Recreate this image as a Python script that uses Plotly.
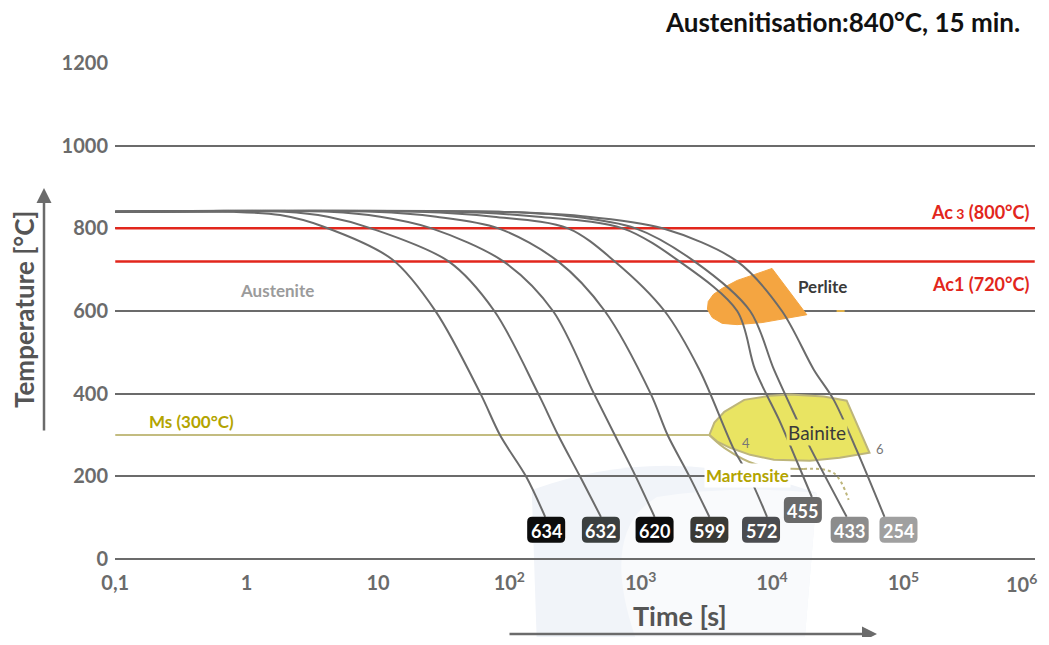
import numpy as np
import plotly.graph_objects as go

# ---------------- data (time in s, temperature in °C) ----------------
curve_labels = ["634", "632", "620", "599", "572", "455", "433", "254"]
label_colors = ["#0c0c0c", "#3b3f3f", "#0c0c0c", "#3a3a35", "#4b4c50", "#6a6a6a", "#8c8c8c", "#a0a0a0"]
label_xshift = [1, 0, 0, 0, -6, -9, 3, 14]

c634_t = [0.1, 0.8, 1.8, 3.77, 12.8, 27.5, 60.3, 85.5, 134.5, 187.5]
c634_T = [840, 840, 832, 805, 725, 599, 400, 298, 199, 102]
c632_t = [0.1, 1.94, 4.15, 8.85, 34.5, 76.9, 166, 235, 345, 498]
c632_T = [840, 840, 828, 800, 720, 600, 400, 300, 200, 102]
c620_t = [0.1, 4.26, 10.4, 25.6, 90.1, 215, 441, 635, 916, 1276]
c620_T = [840, 840, 828, 800, 720, 600, 400, 300, 200, 102]
c599_t = [0.1, 9.3, 27.8, 82.6, 235, 533, 1191, 1603, 2350, 3334]
c599_T = [840, 840, 828, 800, 720, 600, 400, 300, 200, 102]
c572_t = [0.1, 20.5, 75.7, 280, 635, 1520, 2800, 5150, 6700, 9160]
c572_T = [840, 840, 828, 800, 720, 600, 458, 264, 200, 102]
c455_t = [0.1, 37.7, 166, 731, 1972, 5430, 7430, 11300, 13680, 20100]
c455_T = [840, 840, 828, 800, 720, 600, 458, 337, 276, 150]
c433_t = [0.1, 82.6, 275, 916, 2565, 6810, 10350, 15460, 19050, 37000]
c433_T = [840, 840, 830, 800, 720, 600, 458, 337, 276, 102]
c254_t = [0.1, 82.6, 348, 1468, 5430, 11900, 20800, 29500, 44000, 71800]
c254_T = [840, 840, 830, 800, 720, 600, 458, 385, 264, 102]

curves_t = [c634_t, c632_t, c620_t, c599_t, c572_t, c455_t, c433_t, c254_t]
curves_T = [c634_T, c632_T, c620_T, c599_T, c572_T, c455_T, c433_T, c254_T]

perlite_t = [18400, 13000, 8400, 5430, 4180, 3510, 3221, 3270, 3570, 4180, 5430, 7310, 10000, 18400]
perlite_T = [591, 582, 572, 567, 570, 584, 604, 623, 640, 655, 674, 688, 703, 591]

bainite_t = [3334, 3640, 4330, 6140, 9660, 13680, 24800, 37000, 55200,
             32700, 19400, 10350, 6810, 4810, 3830, 3334]
bainite_T = [300, 330, 356, 385, 395, 398, 393, 383, 257,
             245, 238, 240, 252, 269, 284, 300]

mart_t = [3334, 4330, 7700, 17470]
mart_T = [300, 269, 228, 218]
mart_dot_t = [17470, 29500, 38300]
mart_dot_T = [218, 208, 143]

ms_t = [0.1, 3334]
ms_T = [300, 300]

perlite_dash_t = [31000, 35700]
perlite_dash_T = [600, 600]

ac3 = 800
ac1 = 720
y_ticks = [0, 200, 400, 600, 800, 1000, 1200]
x_tickvals = [0.1, 1, 10, 100, 1e3, 1e4, 1e5]
x_ticktext = ["0,1", "1", "10", "10<sup>2</sup>", "10<sup>3</sup>", "10<sup>4</sup>", "10<sup>5</sup>"]
x_last_tick = 1e6
x_last_text = "10<sup>6</sup>"

FONT = "Lato"
GRAY = "#6b6b6b"
RED = "#e2261c"
OLIVE = "#b3a400"

fig = go.Figure()

fig.add_trace(go.Scatter(x=perlite_t, y=perlite_T, mode="lines", fill="toself",
                         fillcolor="#f4a541", line=dict(color="#f4a541", width=1),
                         hoverinfo="skip", showlegend=False))
fig.add_trace(go.Scatter(x=perlite_dash_t, y=perlite_dash_T, mode="lines",
                         line=dict(color="#e0b04a", width=2), hoverinfo="skip", showlegend=False))
fig.add_trace(go.Scatter(x=bainite_t, y=bainite_T, mode="lines", fill="toself",
                         fillcolor="#e9e462", line=dict(color="#bdb57a", width=2),
                         hoverinfo="skip", showlegend=False))
fig.add_trace(go.Scatter(x=ms_t, y=ms_T, mode="lines", line=dict(color="#c3bc80", width=2),
                         hoverinfo="skip", showlegend=False))
fig.add_trace(go.Scatter(x=mart_t, y=mart_T, mode="lines",
                         line=dict(color="#bdb57a", width=2, shape="spline"),
                         hoverinfo="skip", showlegend=False))
fig.add_trace(go.Scatter(x=mart_dot_t, y=mart_dot_T, mode="lines",
                         line=dict(color="#bdb57a", width=2, dash="dot", shape="spline"),
                         hoverinfo="skip", showlegend=False))
for v in [ac3, ac1]:
    fig.add_trace(go.Scatter(x=[0.1, 1e6], y=[v, v], mode="lines", line=dict(color=RED, width=2.5),
                             hoverinfo="skip", showlegend=False))

for t, T in zip(curves_t, curves_T):
    fig.add_trace(go.Scatter(x=t, y=T, mode="lines",
                             line=dict(color=GRAY, width=2, shape="spline", smoothing=0.9),
                             hoverinfo="skip", showlegend=False))

shapes = []
annotations = []


def box_path(w, h, r, dx):
    pts = [("M", -w/2 + r, 0), ("L", w/2 - r, 0), ("Q", w/2, 0, w/2, -r), ("L", w/2, -h + r),
           ("Q", w/2, -h, w/2 - r, -h), ("L", -w/2 + r, -h), ("Q", -w/2, -h, -w/2, -h + r),
           ("L", -w/2, -r), ("Q", -w/2, 0, -w/2 + r, 0)]
    s = []
    for p in pts:
        if p[0] == "Q":
            s.append(f"Q {p[1]+dx},{p[2]} {p[3]+dx},{p[4]}")
        else:
            s.append(f"{p[0]} {p[1]+dx},{p[2]}")
    return " ".join(s) + " Z"


for lab, col, xs, t, T in zip(curve_labels, label_colors, label_xshift, curves_t, curves_T):
    shapes.append(dict(type="path", xref="x", yref="y", xsizemode="pixel", ysizemode="pixel",
                       xanchor=t[-1], yanchor=T[-1], path=box_path(38, 26, 5, xs),
                       fillcolor=col, line=dict(width=0), layer="above"))
    annotations.append(dict(x=np.log10(t[-1]), y=T[-1], xref="x", yref="y", text=f"<b>{lab}</b>",
                            showarrow=False, xanchor="center", yanchor="top", xshift=xs, yshift=-1,
                            font=dict(family=FONT, size=18, color="white")))

# faint watermark
shapes.append(dict(type="path", xref="paper", yref="paper", layer="below",
                   path="M 0.459,-0.2 L 0.453,0.139 Q 0.60,0.24 0.763,0.133 L 0.748,-0.2 Z",
                   fillcolor="#f1f4f9", line=dict(width=0)))
shapes.append(dict(type="path", xref="paper", yref="paper", layer="below",
                   path="M 0.574,-0.2 Q 0.52,0.05 0.589,0.125 Q 0.68,0.15 0.763,0.133 L 0.748,-0.2 Z",
                   fillcolor="#f9fafc", line=dict(width=0)))


def txt(x, y, s, color, size, xanchor="center", bg=None, xref="x", weight=True):
    d = dict(x=x, y=y, xref=xref, yref="y", text=(f"<b>{s}</b>" if weight else s), showarrow=False,
             xanchor=xanchor, yanchor="middle", font=dict(family=FONT, size=size, color=color))
    if bg:
        d["bgcolor"] = bg
        d["borderpad"] = 1
    annotations.append(d)


txt(np.log10(1.69), 650, "Austenite", "#9b9b9b", 17)
txt(np.log10(24300), 659, "Perlite", "#3a3a3a", 17)
txt(np.log10(21900), 305, "Bainite", "#3a3a3a", 19, bg="#e9e462", weight=False)
txt(np.log10(6470), 201, "Martensite", OLIVE, 17, bg="white")
txt(np.log10(0.383), 332, "Ms (300°C)", OLIVE, 17)
txt(0.996, 839, "Ac<span style='font-size:14px'> 3</span> (800°C)", RED, 18, xanchor="right", xref="paper")
txt(0.996, 665, "Ac1 (720°C)", RED, 18, xanchor="right", xref="paper")
txt(np.log10(6350), 281, "4", "#777777", 13, weight=False)
txt(np.log10(65800), 267, "6", "#777777", 13, weight=False)

# last x tick label (drawn as annotation so it stays inside the figure)
annotations.append(dict(x=1.0, y=0, xref="paper", yref="paper", text=f"<b>{x_last_text}</b>",
                        showarrow=False, xanchor="right", yanchor="top", xshift=4, yshift=-9,
                        font=dict(family=FONT, size=20, color=GRAY)))

annotations.append(dict(x=(24 - 115) / 920, y=(559 - 310) / 496, xref="paper", yref="paper",
                        xanchor="center", yanchor="middle", text="<b>Temperature [°C]</b>",
                        textangle=-90, showarrow=False, font=dict(family=FONT, size=26, color="#555555")))
annotations.append(dict(x=(680 - 115) / 920, y=(559 - 615) / 496, xref="paper", yref="paper",
                        xanchor="center", yanchor="middle", text="<b>Time [s]</b>",
                        showarrow=False, font=dict(family=FONT, size=27, color="#555555")))
annotations.append(dict(x=(44 - 115) / 920, y=(559 - 188) / 496, xref="paper", yref="paper", text="",
                        showarrow=True, ax=0, ay=244, arrowhead=2, arrowsize=1.2, arrowwidth=2.5,
                        arrowcolor=GRAY))
annotations.append(dict(x=(877 - 115) / 920, y=(559 - 634) / 496, xref="paper", yref="paper", text="",
                        showarrow=True, ax=-369, ay=0, arrowhead=2, arrowsize=1.2, arrowwidth=2.5,
                        arrowcolor=GRAY))
annotations.append(dict(x=(1021 - 115) / 920, y=(559 - 22) / 496, xref="paper", yref="paper",
                        text="<b>Austenitisation:840°C, 15 min.</b>", showarrow=False, borderpad=0,
                        xanchor="right", yanchor="middle", font=dict(family=FONT, size=26, color="#111111")))

fig.update_layout(
    width=1033, height=629,
    margin=dict(l=107, r=6, t=55, b=78),
    paper_bgcolor="white", plot_bgcolor="white",
    showlegend=False,
    shapes=shapes, annotations=annotations,
    xaxis=dict(type="log", range=[-1.002, 6.002], tickvals=x_tickvals, ticktext=x_ticktext,
               showgrid=False, zeroline=False, showline=False, ticks="",
               ticklabelstandoff=10,
               tickfont=dict(family=FONT, size=20, color=GRAY, weight="bold")),
    yaxis=dict(range=[0, 1200], tickvals=y_ticks, showgrid=True, gridcolor=GRAY, gridwidth=1.5,
               zeroline=True, zerolinecolor=GRAY, zerolinewidth=1.5, showline=False, ticks="",
               ticklabelstandoff=6,
               tickfont=dict(family=FONT, size=20, color=GRAY, weight="bold")),
)

fig.write_html("out.html")
